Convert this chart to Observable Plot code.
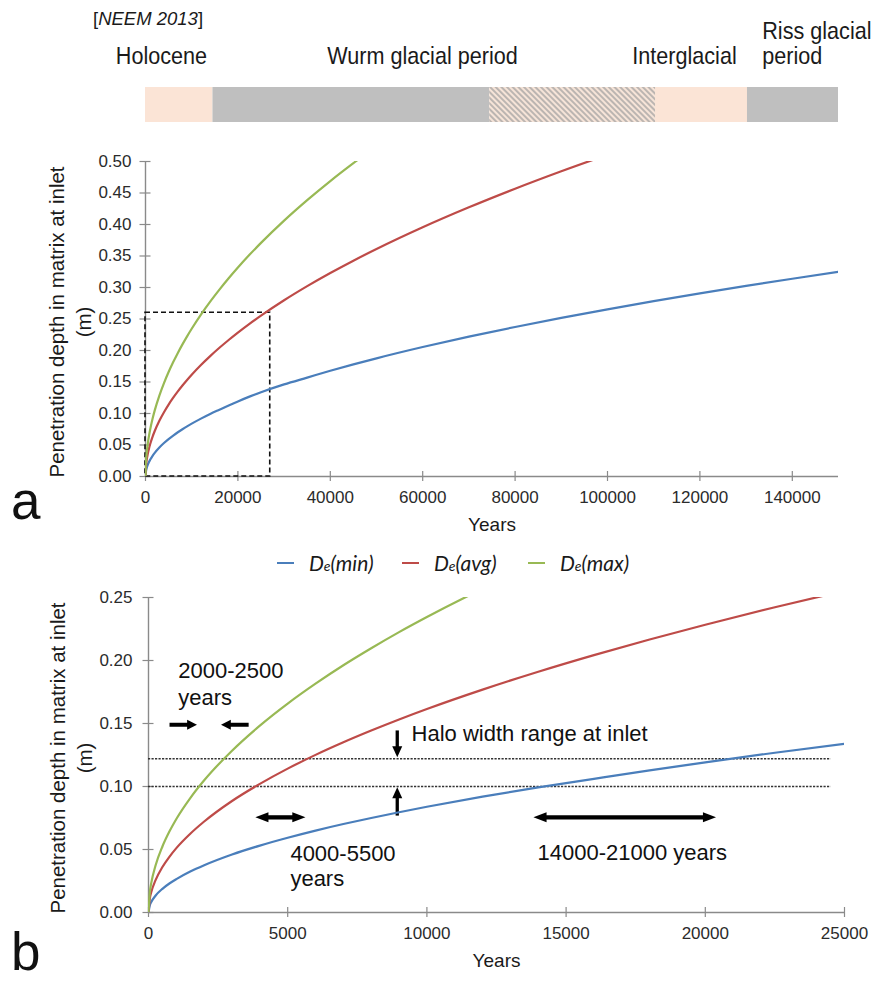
<!DOCTYPE html>
<html><head><meta charset="utf-8">
<script src="https://cdn.jsdelivr.net/npm/d3@7"></script>
<script src="https://cdn.jsdelivr.net/npm/@observablehq/plot@0.6"></script>
<style>
body{margin:0;background:#fff;}
#root{position:relative;width:878px;height:982px;overflow:hidden;font-family:"Liberation Sans",Arial,sans-serif;color:#1a1a1a;}
#root > div{position:absolute;}
.panel-letter{font-size:53px;line-height:1;color:#111;}
.leg{font-family:Lato,"Open Sans",sans-serif;font-style:italic;font-size:21px;color:#1a1a1a;display:flex;align-items:center;white-space:nowrap;}
.leg .sw{display:inline-block;width:17px;height:2px;margin-right:15px;}
.leg .sub{font-size:14px;}
</style></head><body><div id="root"></div>
<script>
// ---------- data ----------
const years = [0,50,100,250,500,750,1000,1500,2000,3000,4000,5000,6000,7000,8000,9000,10000,12000,14000,16000,18000,20000,22500,25000,30000,35000,40000,45000,50000,60000,70000,80000,90000,100000,110000,120000,130000,140000,150000];
const deMin = [0,0.0059,0.0084,0.0133,0.0188,0.0230,0.0265,0.0325,0.0375,0.0460,0.0531,0.0593,0.0650,0.0702,0.0750,0.0796,0.0839,0.0919,0.0993,0.1061,0.1128,0.1192,0.1268,0.1338,0.1462,0.1570,0.1678,0.1780,0.1876,0.2055,0.2220,0.2373,0.2517,0.2653,0.2783,0.2906,0.3025,0.3139,0.3250];
const deAvg = [0,0.0114,0.0162,0.0255,0.0361,0.0442,0.0511,0.0625,0.0722,0.0885,0.1021,0.1142,0.1251,0.1351,0.1444,0.1532,0.1615,0.1769,0.1911,0.2043,0.2167,0.2284,0.2423,0.2553,0.2797,0.3021,0.3230,0.3426,0.3611,0.3956,0.4273,0.4568,0.4845,0.5107];
const deMax = [0,0.0166,0.0235,0.0371,0.0524,0.0642,0.0742,0.0908,0.1049,0.1284,0.1483,0.1658,0.1816,0.1962,0.2097,0.2225,0.2345,0.2569,0.2775,0.2966,0.3146,0.3316,0.3518,0.3708,0.4062,0.4387,0.4690,0.4974,0.5244];
const seriesNames = ["De(min)","De(avg)","De(max)"];
const seriesSub = ["min","avg","max"];
const seriesColors = ["#4A7EBB","#BE4B48","#98B954"];
const seriesValues = [deMin, deAvg, deMax];

const xTicksA = [0,20000,40000,60000,80000,100000,120000,140000];
const yTicksA = [0,0.05,0.10,0.15,0.20,0.25,0.30,0.35,0.40,0.45,0.50];
const xTicksB = [0,5000,10000,15000,20000,25000];
const yTicksB = [0,0.05,0.10,0.15,0.20,0.25];

// era band (years, on panel a x scale)
const eraStart = [0,14600,74500,110400,130300];
const eraEnd   = [14600,74500,110400,130300,150000];
const eraFill  = ["#FBE4D6","#BFBFBF","url(#hatch)","#FBE4D6","#BFBFBF"];
const eraLabelText = ["Holocene","Wurm glacial period","Interglacial","Riss glacial","period"];
const eraLabelYear = [3460,59960,116670,133500,133500];
const eraLabelAnchor = ["middle","middle","middle","start","start"];
const eraLabelRow = [1,1,1,0,1];

// zoom box in panel a
const boxYears = [0, 27000];
const boxDepth = [0, 0.26];

// panel b annotations
const haloDepths = [0.10, 0.122];
const haloLineEnd = 24520;
const noteText = ["2000-2500","years","Halo width range at inlet","4000-5500","years","14000-21000 years"];
const noteYear = [1068,1068,9450,5097,5097,13971];
const noteDepth = [0.1914,0.1699,0.1420,0.0467,0.0268,0.0472];
const arrowFromYear = [755,3597,8935,8935];
const arrowFromDepth = [0.149,0.149,0.1445,0.0769];
const arrowToYear = [1741,2604,8935,8935];
const arrowToDepth = [0.149,0.149,0.1232,0.0994];
const dblFromYear = [3838,13827];
const dblToYear = [5637,20385];
const dblDepth = [0.0755,0.0755];

const yLabelLines = ["Penetration depth in matrix at inlet","(m)"];

// ---------- setup ----------
const W = 878;
const FONT = "'Liberation Sans', Arial, sans-serif";
const axisColor = "#8a8a8a";
const tickText = "#2b2b2b";
const root = document.getElementById("root");
function place(el, left, top){ const d=document.createElement("div"); d.style.left=left+"px"; d.style.top=top+"px"; d.appendChild(el); root.appendChild(d); return d; }

const rows = seriesNames.flatMap((name, s) => seriesValues[s].map((v, i) => ({year: years[i], depth: v, name})));

// ---------- era band ----------
const eras = eraStart.map((s,i)=>({s, e: eraEnd[i], fill: eraFill[i]}));
const eraLabels = eraLabelText.map((t,i)=>({t, x: eraLabelYear[i], a: eraLabelAnchor[i], r: eraLabelRow[i]}));
const band = Plot.plot({
  width: W, height: 130, marginTop: 87, marginBottom: 8, marginLeft: 145, marginRight: 40,
  x: {domain: [0,150000], axis: null},
  style: {fontFamily: FONT, background: "transparent", overflow: "visible"},
  marks: [
    Plot.rect(eras.filter(d=>!d.fill.startsWith("url")), {x1: "s", x2: "e", fill: "fill"}),
    Plot.rect(eras.filter(d=>d.fill.startsWith("url")), {x1: "s", x2: "e", fill: "url(#hatch)"}),
    ...["middle","start"].map(anchor => Plot.text(eraLabels.filter(d=>d.a===anchor && d.r===1), {x: "x", text: "t", frameAnchor: "top", dy: -31.5, textAnchor: anchor, lineAnchor: "middle", fontSize: 24, fill: "#1a1a1a"})),
    Plot.text(eraLabels.filter(d=>d.r===0), {x: "x", text: "t", frameAnchor: "top", dy: -56.5, textAnchor: "start", lineAnchor: "middle", fontSize: 24, fill: "#1a1a1a"})
  ]
});
d3.select(band).insert("defs", ":first-child").html('<pattern id="hatch" patternUnits="userSpaceOnUse" width="4" height="4" patternTransform="rotate(-45)"><rect width="4" height="4" fill="#F6E4D8"/><line x1="1" y1="0" x2="1" y2="4" stroke="#9c9c9c" stroke-width="1.3"/></pattern>');
// narrow the era labels horizontally (the original uses a condensed face); keep their vertical offsets
d3.select(band).selectAll("text").each(function(){
  const t = d3.select(this);
  const xs = t.attr("x");
  const x = xs != null && !isNaN(+xs) ? +xs : 0;
  if (xs != null && !isNaN(+xs)) t.attr("x", null);
  const tr = t.attr("transform") || "";
  t.attr("transform", `${tr} translate(${x},0) scale(0.9,1)`);
});
place(band, 0, 0);

const neem = document.createElement("div");
neem.style.cssText = "font-family:'Liberation Sans',Arial,sans-serif;font-size:18.5px;line-height:1;color:#1a1a1a;white-space:nowrap;";
neem.innerHTML = "[<i>NEEM 2013</i>]";
place(neem, 93, 10);

// ---------- generic panel ----------
function panel({xDomain, yDomain, xTicks, yTicks, mTop, mBottom, mLeft, mRight, height, extra, labelDx, tickPadY}) {
  return Plot.plot({
    width: W, height, marginTop: mTop, marginBottom: mBottom, marginLeft: mLeft, marginRight: mRight,
    x: {domain: xDomain}, y: {domain: yDomain},
    color: {domain: seriesNames, range: seriesColors},
    style: {fontFamily: FONT, fontSize: "17px", background: "transparent", color: tickText, overflow: "visible"},
    marks: [
      Plot.ruleX([0], {stroke: axisColor, strokeWidth: 1.4}),
      Plot.ruleY([0], {stroke: axisColor, strokeWidth: 1.4}),
      Plot.axisY(yTicks, {anchor: "left", tickSize: 11, dx: 5.5, tickFormat: () => "", stroke: axisColor, strokeWidth: 1.2, label: null}),
      Plot.axisY(yTicks, {anchor: "left", tickSize: 0, tickPadding: tickPadY, tickFormat: d3.format(".2f"), fill: tickText, label: null}),
      Plot.axisX(xTicks, {anchor: "bottom", tickSize: 10, dy: -5, tickFormat: () => "", stroke: axisColor, strokeWidth: 1.2, label: null}),
      Plot.axisX(xTicks, {anchor: "bottom", tickSize: 0, tickPadding: 14, tickFormat: d3.format("d"), fill: tickText, label: null}),
      ...extra,
      Plot.line(rows, {x: "year", y: "depth", stroke: "name", strokeWidth: 2.2, clip: true, curve: "monotone-x"}),
      Plot.text(["Years"], {text: d => d, frameAnchor: "bottom", dy: 48, lineAnchor: "middle", fontSize: 19, fill: "#1a1a1a"}),
      Plot.text([yLabelLines[0]], {text: d => d, frameAnchor: "left", textAnchor: "middle", rotate: -90, dx: labelDx[0], dy: 3, lineAnchor: "middle", fontSize: 20.5, fill: "#1a1a1a"}),
      Plot.text([yLabelLines[1]], {text: d => d, frameAnchor: "left", textAnchor: "middle", rotate: -90, dx: labelDx[1], dy: 3, lineAnchor: "middle", fontSize: 20.5, fill: "#1a1a1a"})
    ]
  });
}

// ---------- panel a ----------
const A = {mTop: 21, mBottom: 64, mLeft: 145, mRight: 40, height: 400};
const boxA = [{x1: boxYears[0], x2: boxYears[1], y1: boxDepth[0], y2: boxDepth[1]}];
const plotA = panel({
  xDomain: [0,150000], yDomain: [0,0.5], xTicks: xTicksA, yTicks: yTicksA, ...A, labelDx: [-88,-61], tickPadY: 14,
  extra: [Plot.rect(boxA, {x1: "x1", x2: "x2", y1: "y1", y2: "y2", fill: "none", stroke: "#111", strokeWidth: 1.6, strokeDasharray: "5,3"})]
});
place(plotA, 0, 140);

// ---------- legend ----------
const legendX = [277, 402, 528];
seriesNames.forEach((n, i) => {
  const d = document.createElement("div");
  d.className = "leg";
  d.innerHTML = `<span class="sw" style="background:${seriesColors[i]}"></span><span>D<span class="sub">e</span>(${seriesSub[i]})</span>`;
  place(d, legendX[i], 550);
});

// ---------- panel b ----------
const B = {mTop: 17, mBottom: 68, mLeft: 148, mRight: 34, height: 400};
const kx = 25000 / (W - B.mLeft - B.mRight);
const ky = 0.25 / (B.height - B.mTop - B.mBottom);
const singles = arrowFromYear.map((x1, i) => {
  const x2 = arrowToYear[i], y1 = arrowFromDepth[i], y2 = arrowToDepth[i];
  const horiz = y1 === y2;
  const L = horiz ? 9 : 10;
  const dirx = Math.sign(x2 - x1), diry = Math.sign(y2 - y1);
  return {x1, y1, x2, y2, sx: x2 - dirx * (L - 1) * kx, sy: y2 - diry * (L - 1) * ky, L,
    rot: horiz ? (dirx > 0 ? 90 : 270) : (diry > 0 ? 0 : 180), w: horiz ? 4 : 3.3};
});
const Ld = 12;
const doubles = dblFromYear.map((x1, i) => ({x1, x2: dblToYear[i], y: dblDepth[i], sx1: x1 + (Ld - 1) * kx, sx2: dblToYear[i] - (Ld - 1) * kx}));
const heads = [
  ...singles.map(d => ({x: d.x2, y: d.y2, rot: d.rot, L: d.L})),
  ...doubles.flatMap(d => [{x: d.x1, y: d.y, rot: 270, L: Ld}, {x: d.x2, y: d.y, rot: 90, L: Ld}])
];
const notes = noteText.map((t, i) => ({t, x: noteYear[i], y: noteDepth[i]}));
const plotB = panel({
  xDomain: [0,25000], yDomain: [0,0.25], xTicks: xTicksB, yTicks: yTicksB, ...B, labelDx: [-90,-63], tickPadY: 16,
  extra: [
    Plot.ruleY(haloDepths, {x1: 0, x2: haloLineEnd, stroke: "#333", strokeWidth: 1.4, strokeDasharray: "2.2,1.3"}),
    Plot.link(singles, {x1: "x1", y1: "y1", x2: "sx", y2: "sy", stroke: "#000", strokeWidth: "w"}),
    Plot.link(doubles, {x1: "sx1", y1: "y", x2: "sx2", y2: "y", stroke: "#000", strokeWidth: 4.3}),
    Plot.vector(heads, {x: "x", y: "y", rotate: "rot", length: "L", r: 5, shape: "spike", anchor: "end", fill: "#000", stroke: "none"}),
    Plot.text(notes, {x: "x", y: "y", text: "t", textAnchor: "start", lineAnchor: "middle", fontSize: 22, fill: "#111"})
  ]
});
place(plotB, 0, 580);

// ---------- panel letters ----------
const la = document.createElement("div"); la.className = "panel-letter"; la.textContent = "a"; place(la, 11, 474);
const lb = document.createElement("div"); lb.className = "panel-letter"; lb.textContent = "b"; place(lb, 11, 925);
</script></body></html>
